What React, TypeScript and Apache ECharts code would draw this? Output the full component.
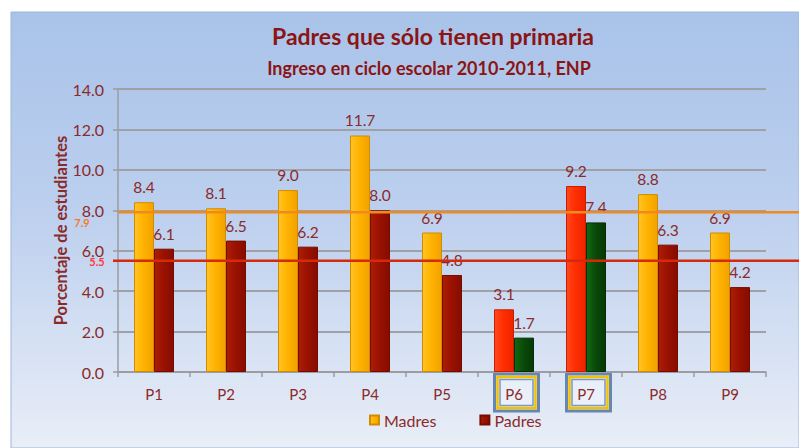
import React, { useEffect, useRef } from "react";
import * as echarts from "echarts";

const categories = ["P1", "P2", "P3", "P4", "P5", "P6", "P7", "P8", "P9"];
const madres = [8.4, 8.1, 9.0, 11.7, 6.9, 3.1, 9.2, 8.8, 6.9];
const padres = [6.1, 6.5, 6.2, 8.0, 4.8, 1.7, 7.4, 6.3, 4.2];
const highlighted = ["P6", "P7"];
const refLines = [
  { value: 7.9, color: "#F0891E", labelColor: "#F07A2A" },
  { value: 5.5, color: "#D42A0A", labelColor: "#FF3A3A" },
];
const yTicks = { min: 0, max: 14, interval: 2 };

const FONT = "Lato, 'Open Sans', sans-serif";
const TXT = "#8B2A2A";

const grad = (a: string, b: string, c: string) =>
  new echarts.graphic.LinearGradient(0, 0, 1, 0, [
    { offset: 0, color: a },
    { offset: 0.45, color: b },
    { offset: 1, color: c },
  ]);

export default function App() {
  const ref = useRef<HTMLDivElement>(null);
  useEffect(() => {
    document.body.style.margin = "0";
    if (!ref.current) return;
    const chart = echarts.init(ref.current, undefined, { renderer: "svg" });

    const madresStyle = { color: grad("#FFC326", "#FFB300", "#F2A200"), borderColor: "#D08C00", borderWidth: 1 };
    const padresStyle = { color: grad("#AE1E08", "#9A1200", "#850C00"), borderColor: "#7A0A00", borderWidth: 1 };
    const redStyle = { color: grad("#FF4A20", "#FF2E00", "#EE2400"), borderColor: "#C81E00", borderWidth: 1 };
    const greenStyle = { color: grad("#136A14", "#0A4B0A", "#063806"), borderColor: "#053005", borderWidth: 1 };

    const label = {
      show: true,
      position: "top",
      distance: 7,
      color: TXT,
      fontSize: 15.5,
      fontFamily: FONT,
      formatter: (p: any) => Number(p.value).toFixed(1),
    };

    chart.setOption({
      animation: false,
      backgroundColor: "transparent",
      textStyle: { fontFamily: FONT },
      title: [
        {
          text: "Padres que sólo tienen primaria",
          left: 428,
          top: 19,
          textAlign: "center",
          textStyle: { color: "#8B1414", fontSize: 23, fontWeight: "bold", fontFamily: FONT },
        },
        {
          text: "Ingreso en ciclo escolar 2010-2011, ENP",
          left: 424,
          top: 54,
          textAlign: "center",
          textStyle: { color: "#8B1414", fontSize: 18, fontWeight: "bold", fontFamily: FONT },
        },
      ],
      legend: {
        left: 369,
        top: 412,
        padding: 0,
        itemWidth: 9,
        itemHeight: 9,
        itemGap: 43,
        icon: "rect",
        textStyle: { color: TXT, fontSize: 16, fontFamily: FONT },
        data: ["Madres", "Padres"],
      },
      grid: { left: 118, right: 33, top: 89, bottom: 76 },
      xAxis: {
        type: "category",
        data: categories,
        axisLine: { lineStyle: { color: "#9A9CA2", width: 1.5 } },
        axisTick: { show: true, length: 5, lineStyle: { color: "#9A9CA2", width: 1.5 } },
        axisLabel: { color: TXT, fontSize: 15, margin: 14, fontFamily: FONT },
      },
      yAxis: {
        type: "value",
        min: yTicks.min,
        max: yTicks.max,
        interval: yTicks.interval,
        name: "Porcentaje de estudiantes",
        nameLocation: "middle",
        nameGap: 49,
        nameMoveOverlap: false,
        nameRotate: 90,
        nameTextStyle: { color: TXT, fontSize: 16.5, fontWeight: "bold", fontFamily: FONT },
        axisLine: { show: true, lineStyle: { color: "#9A9CA2", width: 1.5 } },
        axisTick: { show: true, length: 5, lineStyle: { color: "#9A9CA2", width: 1.5 } },
        axisLabel: {
          color: TXT,
          fontSize: 16,
          margin: 14,
          fontFamily: FONT,
          formatter: (v: number) => v.toFixed(1),
        },
        splitLine: { lineStyle: { color: "#9FA1A6", width: 2 } },
      },
      series: [
        {
          name: "Madres",
          type: "bar",
          barWidth: 20,
          barGap: "0%",
          itemStyle: madresStyle,
          label,
          data: madres.map((v, i) => ({
            value: v,
            itemStyle: highlighted.includes(categories[i]) ? redStyle : madresStyle,
          })),
        },
        {
          name: "Padres",
          type: "bar",
          barWidth: 20,
          barGap: "0%",
          itemStyle: padresStyle,
          label,
          data: padres.map((v, i) => ({
            value: v,
            itemStyle: highlighted.includes(categories[i]) ? greenStyle : padresStyle,
          })),
        },
      ],
    });

    const W = 799;
    const H = 448;
    const graphics: any[] = [
      {
        type: "rect",
        z: -100,
        silent: true,
        shape: { x: 11, y: 12, width: W - 11, height: H - 12 },
        style: {
          fill: new echarts.graphic.LinearGradient(0, 0, 0, 1, [
            { offset: 0, color: "#A9C3E9" },
            { offset: 0.45, color: "#BCCFEE" },
            { offset: 1, color: "#E9EEF7" },
          ]),
          stroke: "#9DB6DE",
          lineWidth: 1,
        },
      },
    ];

    const x0 = chart.convertToPixel({ xAxisIndex: 0 }, categories[0]) as number;
    const x1 = chart.convertToPixel({ xAxisIndex: 0 }, categories[1]) as number;
    const yZero = chart.convertToPixel({ yAxisIndex: 0 }, 0) as number;
    const axisX = x0 - (x1 - x0) / 2;

    refLines.forEach((r, i) => {
      const y = chart.convertToPixel({ yAxisIndex: 0 }, r.value) as number;
      graphics.push({
        type: "line",
        z: 50,
        silent: true,
        shape: { x1: i === 0 ? axisX : axisX - 5, y1: y, x2: W, y2: y },
        style: { stroke: r.color, lineWidth: 2.5 },
      });
      graphics.push({
        type: "text",
        z: 50,
        silent: true,
        x: i === 0 ? axisX - 36 : axisX - 21,
        y: i === 0 ? y + 10 : y + 1,
        style: {
          text: r.value.toFixed(1),
          fill: r.labelColor,
          fontSize: 11,
          fontWeight: "bold",
          fontFamily: FONT,
          align: "center",
          verticalAlign: "middle",
        },
      });
    });

    highlighted.forEach((c) => {
      const cx = (chart.convertToPixel({ xAxisIndex: 0 }, c) as number) + 2.5;
      const cy = yZero + 20.5;
      const bw = 44;
      const bh = 37;
      graphics.push({
        type: "rect",
        z: -50,
        silent: true,
        shape: { x: cx - bw / 2, y: cy - bh / 2, width: bw, height: bh },
        style: { fill: "rgba(255,255,255,0.35)", stroke: "#6786B0", lineWidth: 3 },
      });
      graphics.push({
        type: "rect",
        z: -49,
        silent: true,
        shape: { x: cx - bw / 2 + 3, y: cy - bh / 2 + 3, width: bw - 6, height: bh - 6 },
        style: { fill: "none", stroke: "#F2C200", lineWidth: 2.5 },
      });
      graphics.push({
        type: "rect",
        z: -48,
        silent: true,
        shape: { x: cx - bw / 2 + 5.5, y: cy - bh / 2 + 5.5, width: bw - 11, height: bh - 11 },
        style: { fill: "none", stroke: "#7C98BE", lineWidth: 1.5 },
      });
    });

    chart.setOption({ graphic: graphics });

    return () => chart.dispose();
  }, []);

  return <div ref={ref} style={{ width: 799, height: 448, background: "#ffffff" }} />;
}
